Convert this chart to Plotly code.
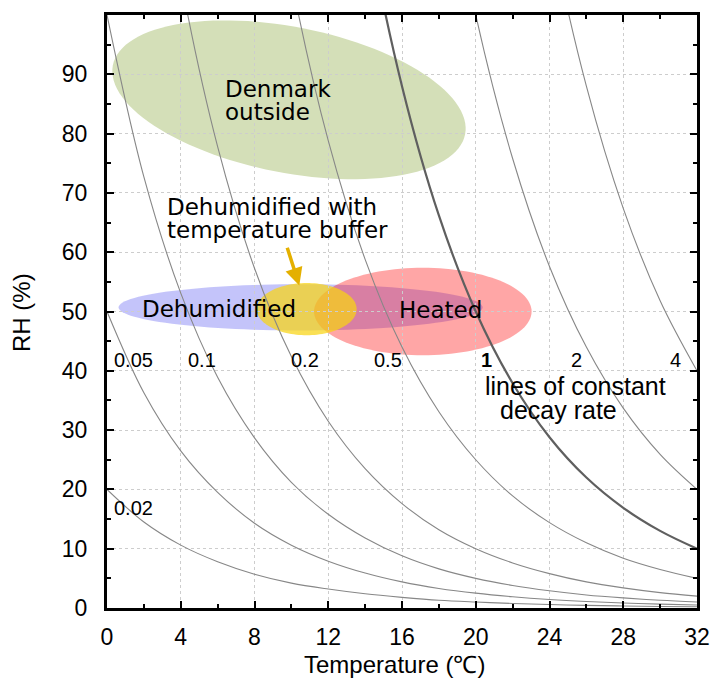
import math
import plotly.graph_objects as go

# ---------------- data ----------------
TEMP = [0, 2, 4, 6, 8, 10, 12, 14, 16, 18, 20, 22, 24, 26, 28, 30, 32]

DECAY_LABELS = ["0.02", "0.05", "0.1", "0.2", "0.5", "1", "2", "4"]
RH_K002 = [20.0, 14.5, 10.6, 7.8, 5.7, 4.2, 3.2, 2.4, 1.8, 1.3, 1.0, 0.76, 0.58, 0.44, 0.34, 0.26, 0.20]
RH_K005 = [50.0, 36.3, 26.5, 19.5, 14.3, 10.6, 7.9, 5.9, 4.4, 3.3, 2.5, 1.9, 1.44, 1.10, 0.84, 0.65, 0.50]
RH_K01 = [100.0, 72.7, 53.1, 38.9, 28.7, 21.2, 15.8, 11.8, 8.8, 6.6, 5.0, 3.8, 2.9, 2.2, 1.7, 1.3, 1.0]
RH_K02 = [None, 145.4, 106.1, 77.8, 57.3, 42.4, 31.5, 23.5, 17.6, 13.2, 10.0, 7.6, 5.8, 4.4, 3.4, 2.6, 2.0]
RH_K05 = [None, None, None, None, 143.3, 106.0, 78.8, 58.8, 44.0, 33.1, 25.0, 18.9, 14.4, 11.0, 8.4, 6.5, 5.0]
RH_K1 = [None, None, None, None, None, None, 157.5, 117.5, 88.0, 66.2, 50.0, 37.9, 28.8, 22.0, 16.9, 13.0, 10.0]
RH_K2 = [None, None, None, None, None, None, None, None, 176.1, 132.4, 100.0, 75.8, 57.6, 44.0, 33.7, 25.9, 20.0]
RH_K4 = [None, None, None, None, None, None, None, None, None, None, 200.0, 151.5, 115.3, 88.0, 67.4, 51.8, 40.0]
DECAY_CURVES = [RH_K002, RH_K005, RH_K01, RH_K02, RH_K05, RH_K1, RH_K2, RH_K4]

# label positions of the decay-rate curves
LABEL_T = [1.41, 1.41, 5.15, 10.74, 15.24, 20.56, 25.49, 30.86]
LABEL_RH = [16.9, 41.8, 41.8, 41.8, 41.8, 41.9, 41.9, 41.9]

# climate regions (ellipses): centre, semi-axes, tilt
REGION_NAMES = ["Denmark outside", "Dehumidified", "Heated", "Dehumidified with temperature buffer"]
REGION_T = [9.87, 10.50, 17.13, 10.83]
REGION_RH = [85.7, 50.7, 50.0, 50.4]
REGION_T_HALF = [9.735, 9.87, 5.90, 2.71]
REGION_RH_HALF = [12.29, 3.90, 7.37, 4.40]
REGION_TILT = [-11.1, 0.0, 0.0, 0.0]

X_TICKS = [0, 4, 8, 12, 16, 20, 24, 28, 32]
Y_TICKS = [0, 10, 20, 30, 40, 50, 60, 70, 80, 90]

# ---------------- style ----------------
W, H = 716, 682
ML, MR, MT, MB = 107, 19, 15, 74
X_RANGE = [0, 32]
Y_RANGE = [0, 100]
PX_PER_T = (W - ML - MR) / (X_RANGE[1] - X_RANGE[0])
PX_PER_RH = (H - MT - MB) / (Y_RANGE[1] - Y_RANGE[0])
RATIO = PX_PER_T / PX_PER_RH  # RH units per degree, on screen

REGION_FILL = ["rgb(212,223,184)", "rgba(60,60,240,0.30)", "rgba(255,0,0,0.35)", "rgba(248,212,20,0.72)"]
DRAW_ORDER = [0, 1, 2, 3]

SANS = "Liberation Sans, Arial, sans-serif"
DEJAVU = "DejaVu Sans, sans-serif"


def ellipse_path(cx, cy, at, brh, tilt_deg, n=120):
    phi = math.radians(tilt_deg)
    b = brh / RATIO  # in screen-equivalent degrees
    pts = []
    for i in range(n):
        t = 2 * math.pi * i / n
        u = at * math.cos(t)
        v = b * math.sin(t)
        dx = u * math.cos(phi) - v * math.sin(phi)
        dy = u * math.sin(phi) + v * math.cos(phi)
        pts.append((cx + dx, cy + dy * RATIO))
    s = "M %.4f,%.4f " % pts[0]
    s += " ".join("L %.4f,%.4f" % p for p in pts[1:])
    return s + " Z"


fig = go.Figure()

shapes = []
for i in DRAW_ORDER:
    shapes.append(dict(
        type="path", xref="x", yref="y", layer="below",
        path=ellipse_path(REGION_T[i], REGION_RH[i], REGION_T_HALF[i], REGION_RH_HALF[i], REGION_TILT[i]),
        fillcolor=REGION_FILL[i], line=dict(width=0),
    ))

for lab, rh in zip(DECAY_LABELS, DECAY_CURVES):
    main = lab == "1"
    fig.add_trace(go.Scatter(
        x=TEMP, y=rh, mode="lines", name=lab, showlegend=False, hoverinfo="skip",
        line=dict(color="rgb(95,95,95)" if main else "rgb(135,135,135)",
                  width=2.2 if main else 1.1, shape="spline", smoothing=1.0),
    ))

annotations = []
for lab, tx, ty in zip(DECAY_LABELS, LABEL_T, LABEL_RH):
    annotations.append(dict(
        x=tx, y=ty, xref="x", yref="y", showarrow=False,
        text="<b>1</b>" if lab == "1" else lab,
        font=dict(family=SANS, size=20, color="black"),
        xanchor="center", yanchor="middle",
    ))

region_text = [
    ("Denmark", 6.27, 87.6), ("outside", 6.27, 83.6),
    ("Dehumidified", 1.79, 50.5), ("Heated", 15.71, 50.2),
    ("Dehumidified with", 3.15, 67.6), ("temperature buffer", 3.15, 63.7),
]
for txt, tx, ty in region_text:
    annotations.append(dict(
        x=tx, y=ty, xref="x", yref="y", showarrow=False, text=txt,
        font=dict(family=DEJAVU, size=23, color="black"),
        xanchor="left", yanchor="middle",
    ))

annotations.append(dict(x=20.39, y=37.4, xref="x", yref="y", showarrow=False,
                        text="lines of constant", font=dict(family=SANS, size=25, color="black"),
                        xanchor="left", yanchor="middle"))
annotations.append(dict(x=21.2, y=33.4, xref="x", yref="y", showarrow=False,
                        text="decay rate", font=dict(family=SANS, size=25, color="black"),
                        xanchor="left", yanchor="middle"))

# arrow pointing at the buffered region
annotations.append(dict(
    x=10.43, y=54.4, ax=9.75, ay=61.0, xref="x", yref="y", axref="x", ayref="y",
    text="", showarrow=True, arrowhead=2, arrowsize=1.0, arrowwidth=3.5,
    arrowcolor="rgb(228,176,0)",
))

# axis titles
annotations.append(dict(x=0.488, y=-0.096, xref="paper", yref="paper", showarrow=False,
                        text="Temperature (℃)", font=dict(family=SANS, size=24, color="black"),
                        xanchor="center", yanchor="middle"))
annotations.append(dict(x=-0.144, y=0.4975, xref="paper", yref="paper", showarrow=False,
                        text="RH (%)", textangle=-90, font=dict(family=SANS, size=24, color="black"),
                        xanchor="center", yanchor="middle"))

axis_common = dict(
    showline=True, linewidth=3, linecolor="black", mirror="allticks",
    ticks="inside", ticklen=7, tickwidth=2, tickcolor="black",
    showgrid=True, gridcolor="rgb(205,205,205)", gridwidth=1, griddash="dot",
    zeroline=False, tickfont=dict(family=SANS, size=23, color="black"),
    automargin=False,
)

fig.update_layout(
    width=W, height=H, autosize=False,
    margin=dict(l=ML, r=MR, t=MT, b=MB),
    paper_bgcolor="white", plot_bgcolor="white",
    shapes=shapes, annotations=annotations,
    xaxis=dict(range=X_RANGE, tickmode="array", tickvals=X_TICKS,
               ticktext=[str(v) for v in X_TICKS], ticklabelstandoff=6,
               minor=dict(dtick=2, tick0=0, ticks="inside", ticklen=4, tickwidth=2, tickcolor="black", showgrid=False),
               **axis_common),
    yaxis=dict(range=Y_RANGE, tickmode="array", tickvals=Y_TICKS,
               ticktext=[str(v) for v in Y_TICKS], ticklabelstandoff=12,
               minor=dict(dtick=5, tick0=0, ticks="inside", ticklen=4, tickwidth=2, tickcolor="black", showgrid=False),
               **axis_common),
)

fig.write_html(
    "out.html",
    config={"displayModeBar": False},
    post_script="document.body.style.margin='0';document.body.style.padding='0';"
                "document.documentElement.style.overflow='hidden';",
)
